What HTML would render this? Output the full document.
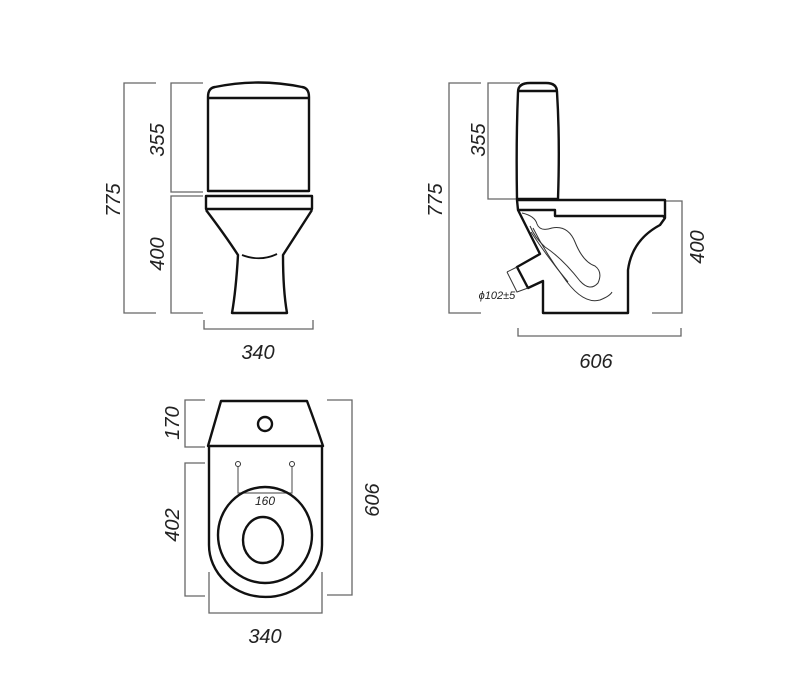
<!DOCTYPE html>
<html><head><meta charset="utf-8"><style>html,body{margin:0;padding:0;background:#fff}svg{display:block}text{font-family:"Liberation Sans",sans-serif;font-style:italic;fill:#222}</style></head><body>
<svg width="800" height="689" viewBox="0 0 800 689" xmlns="http://www.w3.org/2000/svg">
<g fill="none" stroke="#666" stroke-width="1.3">
<path d="M156,83H124V313H156"/>
<path d="M203,83H171V192H203"/>
<path d="M203,196H171V313H203"/>
<path d="M204,320V329H313V320"/>
<path d="M481,83H449V313H481"/>
<path d="M520,83H488V199H517"/>
<path d="M665,201H682V313H652"/>
<path d="M518,328V336H681V328"/>
<path d="M205,400H185V447H205"/>
<path d="M205,463H185V596H205"/>
<path d="M327,400H352V595H327"/>
<path d="M209,572V613H322V572"/>
<path d="M238,467V493H292V467" stroke-width="1.2"/>
</g>
<g fill="none" stroke="#111" stroke-width="2.4" stroke-linejoin="round">
<path d="M208,191V97Q208,88 215,87Q258,78 302,87Q309,88 309,97V191Z"/>
<path d="M208,98H309"/>
<rect x="206" y="196" width="106" height="13"/>
<path d="M206,210Q225,235 238,255Q236,290 232,313H287Q283,290 283,255Q296,235 312,210"/>
<path d="M242,255Q260,262 277,254" stroke-width="1.8"/>
<path d="M517,199Q516,140 518,92Q518,83 530,83H546Q557,83 557,92Q560,140 558,199Z"/>
<path d="M518,91H557"/>
<path d="M517,200H665V218L663,216H555V210H518Z"/>
<path d="M518,210L540,254L517,267L528,288L543,281V313H628V270Q632,240 660,225L665,218"/>
<path d="M221,401H307Q316,425 323,446H208Q214,425 221,401Z"/>
<circle cx="265" cy="424" r="7"/>
<path d="M209,447V545A56.5,52 0 0 0 322,545V447"/>
<ellipse cx="265" cy="535" rx="47" ry="48"/>
<ellipse cx="263" cy="540" rx="20" ry="23"/>
</g>
<g fill="none" stroke="#333" stroke-width="1">
<path d="M507,272L517,267M507,272L517,292L528,288"/>
<path d="M522,213Q535,216 537,224Q540,232 552,228Q568,225 575,242Q583,262 595,266Q603,272 598,283Q590,292 580,281Q562,258 545,247Q535,238 530,226"/>
<path d="M533,228Q545,252 562,275Q582,305 600,300Q610,296 612,292"/>
<path d="M531,232Q548,258 568,282"/>
<circle cx="238" cy="464" r="2.5"/>
<circle cx="292" cy="464" r="2.5"/>
</g>
<g font-size="20">
<text x="258" y="359" text-anchor="middle">340</text>
<text x="596" y="368" text-anchor="middle">606</text>
<text x="265" y="643" text-anchor="middle">340</text>
<text transform="translate(120,200) rotate(-90)" text-anchor="middle">775</text>
<text transform="translate(164,140) rotate(-90)" text-anchor="middle">355</text>
<text transform="translate(164,254) rotate(-90)" text-anchor="middle">400</text>
<text transform="translate(442,200) rotate(-90)" text-anchor="middle">775</text>
<text transform="translate(485,140) rotate(-90)" text-anchor="middle">355</text>
<text transform="translate(704,247) rotate(-90)" text-anchor="middle">400</text>
<text transform="translate(179,423) rotate(-90)" text-anchor="middle">170</text>
<text transform="translate(179,525) rotate(-90)" text-anchor="middle">402</text>
<text transform="translate(379,500) rotate(-90)" text-anchor="middle">606</text>
</g>
<text x="265" y="505" font-size="12" text-anchor="middle">160</text>
<text x="497" y="299" font-size="11" text-anchor="middle">ϕ102±5</text>
</svg>
</body></html>
